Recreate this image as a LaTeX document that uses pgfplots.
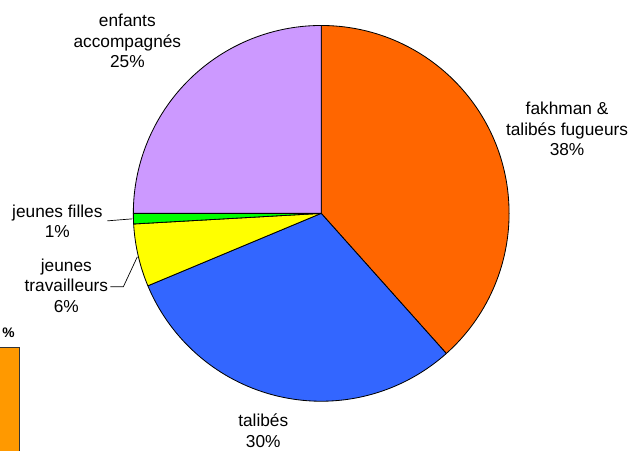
\documentclass[border=0pt]{standalone}
\usepackage{pgfplots}
\pgfplotsset{compat=1.18}
\usepackage{fontspec}
\setmainfont{Liberation Sans}

\definecolor{cOrange}{HTML}{FF6600}
\definecolor{cBlue}{HTML}{3366FF}
\definecolor{cYellow}{HTML}{FFFF00}
\definecolor{cGreen}{HTML}{00FF00}
\definecolor{cLilac}{HTML}{CC99FF}
\definecolor{cBox}{HTML}{FF9900}

% one slice: start (cumulative %), share (%), colour
\newcommand{\slice}[3]{%
  \filldraw[fill=#3, draw=black, line width=0.6pt, line join=round]
    (axis cs:321,237.5) -- ++({90-3.6*(#1)}:1.88in)
    arc[start angle={90-3.6*(#1)}, delta angle={-3.6*(#2)}, radius=1.88in] -- cycle;}

\begin{document}
\begin{tikzpicture}
\begin{axis}[
    width=6.32in, height=4.51in, scale only axis,
    xmin=0, xmax=632, ymin=0, ymax=451,
    hide axis, clip=false]

    % keep the whole frame as the picture's extent
    \path (axis cs:0,0) rectangle (axis cs:632,451);

    \slice{0}{38.4}{cOrange}
    \slice{38.4}{30.3}{cBlue}
    \slice{68.7}{5.4}{cYellow}
    \slice{74.1}{0.9}{cGreen}
    \slice{75.0}{25.0}{cLilac}

    \tikzset{lbl/.style={align=center, font=\fontsize{12.5}{15}\selectfont, inner sep=0pt}}
    \node[lbl] at (axis cs:127,410) {enfants\\accompagnés\\25\%};
    \node[lbl] at (axis cs:567,322) {fakhman \&\\talibés fugueurs\\38\%};
    \node[lbl] at (axis cs:57,229.5) {jeunes filles\\1\%};
    \node[lbl] at (axis cs:66,165) {jeunes\\travailleurs\\6\%};
    \node[lbl] at (axis cs:263,20) {talibés\\30\%};

    \draw[line width=0.5pt] (axis cs:107,230) -- (axis cs:132,232);
    \draw[line width=0.5pt] (axis cs:110,164) -- (axis cs:123,164) -- (axis cs:137,194);

    % fragment of a neighbouring chart, cut at the edge
    \fill[cBox] (axis cs:0,0) rectangle (axis cs:19,103);
    \draw[line width=0.6pt, black!80] (axis cs:0,103) -- (axis cs:19,103) -- (axis cs:19,0);
    \node[font=\bfseries\fontsize{10}{12}\selectfont, inner sep=0pt] at (axis cs:8,118) {\%};
\end{axis}
\end{tikzpicture}
\end{document}
